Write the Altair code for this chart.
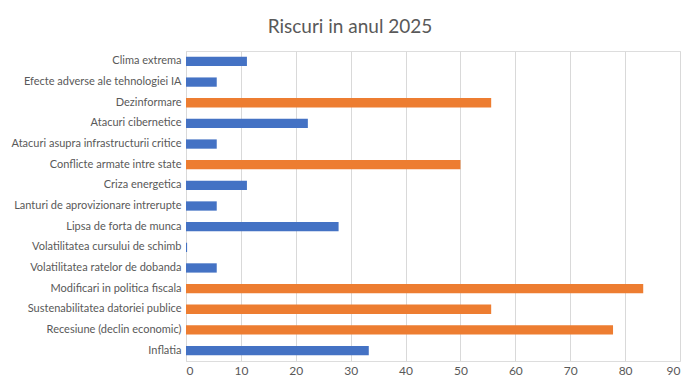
import altair as alt
import pandas as pd

categories = [
    "Clima extrema",
    "Efecte adverse ale tehnologiei IA",
    "Dezinformare",
    "Atacuri cibernetice",
    "Atacuri asupra infrastructurii critice",
    "Conflicte armate intre state",
    "Criza energetica",
    "Lanturi de aprovizionare intrerupte",
    "Lipsa de forta de munca",
    "Volatilitatea cursului de schimb",
    "Volatilitatea ratelor de dobanda",
    "Modificari in politica fiscala",
    "Sustenabilitatea datoriei publice",
    "Recesiune (declin economic)",
    "Inflatia",
]
values = [11.1, 5.6, 55.6, 22.2, 5.6, 50.0, 11.1, 5.6, 27.8, 0.2, 5.6, 83.3, 55.6, 77.8, 33.3]
groups = ["low", "low", "high", "low", "low", "high", "low", "low", "low", "low", "low",
          "high", "high", "high", "low"]

df = pd.DataFrame({"cat": categories, "val": values, "grp": groups})

chart = alt.Chart(df, title=alt.Title(
    "Riscuri in anul 2025", fontSize=19, font="Lato", fontWeight="normal",
    color="#595959", dx=-83, offset=14, anchor="middle")).mark_bar().encode(
    y=alt.Y("cat:N", sort=categories, title=None,
            scale=alt.Scale(paddingInner=0.55, paddingOuter=0.28),
            axis=alt.Axis(ticks=False, domain=True, domainColor="#d9d9d9",
                          labelFontSize=11, labelFont="Lato", labelColor="#595959",
                          labelPadding=5, labelLimit=300)),
    x=alt.X("val:Q", title=None,
            scale=alt.Scale(domain=[0, 90], nice=False),
            axis=alt.Axis(values=list(range(0, 91, 10)), ticks=False, domain=False,
                          gridColor="#d9d9d9", labelFontSize=12, labelFont="Lato",
                          labelColor="#595959", labelPadding=4)),
    color=alt.Color("grp:N", scale=alt.Scale(domain=["low", "high"],
                                             range=["#4472C4", "#ED7D31"]), legend=None),
).properties(
    width=494, height=310,
    autosize=alt.AutoSizeParams(type="none"),
    padding={"left": 178, "top": 43, "right": 12, "bottom": 17},
).configure_view(stroke=None).configure(background="white")

chart.save("out.html", embed_options={"renderer": "svg", "actions": False})
